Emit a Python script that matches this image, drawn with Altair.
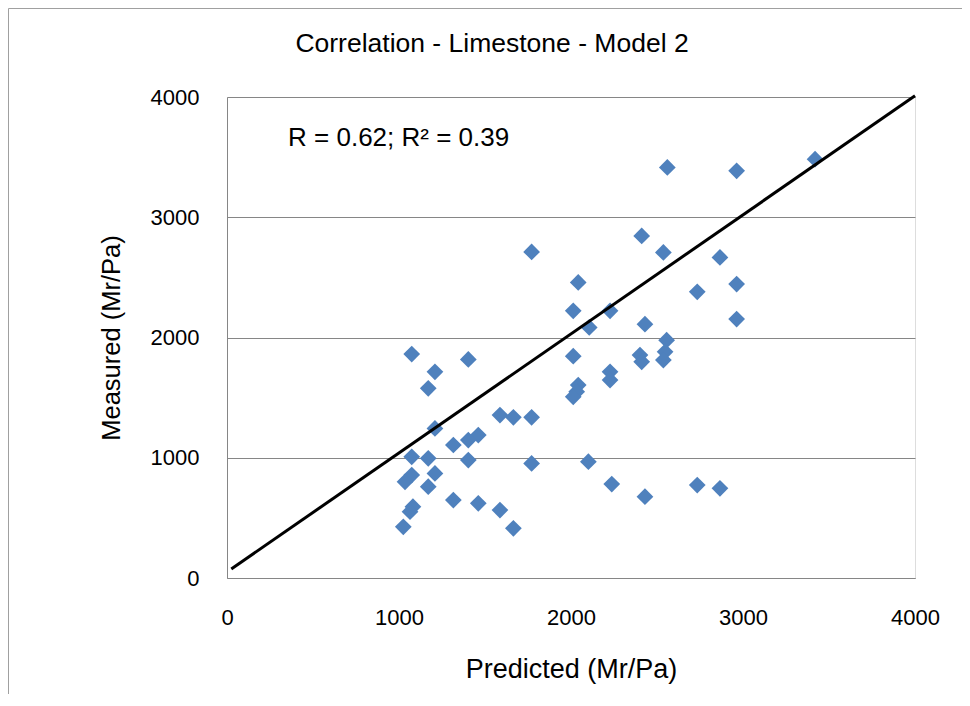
import altair as alt
import pandas as pd

# Scatter points (Predicted, Measured), Mr/Pa
predicted = [2560, 2963, 3419, 1771, 2411, 2537, 2866, 2042, 2734, 2963,
             2013, 2227, 2106, 2430, 2963, 1074, 1403, 2013, 2556, 2547,
             2537, 2401, 2411, 1209, 1170, 2227, 2227, 2042, 2033, 2013,
             1587, 1665, 1771, 1209, 1461, 1403, 1316, 1403, 1074, 1170,
             1209, 1074, 1035, 1771, 2101, 2237, 2430, 2734, 2866, 1170,
             1316, 1461, 1587, 1081, 1064, 1025, 1665]
measured = [3414, 3386, 3483, 2712, 2845, 2707, 2666, 2458, 2380, 2444,
            2222, 2222, 2084, 2111, 2153, 1862, 1818, 1845, 1978, 1881,
            1812, 1854, 1798, 1715, 1577, 1715, 1646, 1604, 1549, 1507,
            1355, 1336, 1336, 1244, 1189, 1147, 1106, 981, 1008, 995,
            870, 856, 800, 953, 967, 781, 676, 773, 746, 759,
            648, 621, 565, 593, 551, 426, 413]

# Fitted line endpoints
line_x = [25, 4000]
line_y = [75, 4010]

axis_ticks = [0, 1000, 2000, 3000, 4000]
title_text = ["Correlation - Limestone - Model 2"]
annotation = "R = 0.62; R\u00b2 = 0.39"
ann_x = [355]
ann_y = [3660]

FONT = "Liberation Sans"
GRID = "#868686"

pts = pd.DataFrame({"Predicted": predicted, "Measured": measured})
ln = pd.DataFrame({"Predicted": line_x, "Measured": line_y})
ann = pd.DataFrame({"Predicted": ann_x, "Measured": ann_y, "t": [annotation]})
ttl = pd.DataFrame({"t": title_text})

xs = alt.Scale(domain=[0, 4000], nice=False)
ys = alt.Scale(domain=[0, 4000], nice=False)

x_axis = alt.Axis(values=axis_ticks, format="d", grid=False, ticks=False, tickSize=0,
                  labelPadding=29, titlePadding=28, labelFontSize=22,
                  titleFontSize=27, titleFontWeight="normal",
                  labelFont=FONT, titleFont=FONT, labelColor="#000000",
                  titleColor="#000000", domainColor=GRID, labelFlush=False,
                  title="Predicted (Mr/Pa)")
y_axis = alt.Axis(values=axis_ticks, format="d", grid=True, gridColor=GRID, gridWidth=1,
                  ticks=False, tickSize=0, labelPadding=28, titlePadding=26,
                  labelFontSize=22, titleFontSize=25.5, titleFontWeight="normal",
                  labelFont=FONT, titleFont=FONT, labelColor="#000000",
                  titleColor="#000000", domainColor=GRID, labelFlush=False,
                  title="Measured  (Mr/Pa)")

points = alt.Chart(pts).mark_point(
    shape="diamond", filled=True, size=280, color="#4F81BD", opacity=1
).encode(
    x=alt.X("Predicted:Q", scale=xs, axis=x_axis),
    y=alt.Y("Measured:Q", scale=ys, axis=y_axis),
)

fit = alt.Chart(ln).mark_line(color="#000000", strokeWidth=3).encode(
    x=alt.X("Predicted:Q", scale=xs),
    y=alt.Y("Measured:Q", scale=ys),
)

text = alt.Chart(ann).mark_text(
    align="left", baseline="middle", font=FONT, fontSize=26, color="#000000"
).encode(
    x=alt.X("Predicted:Q", scale=xs),
    y=alt.Y("Measured:Q", scale=ys),
    text="t:N",
)

title = alt.Chart(ttl).mark_text(
    align="center", baseline="middle", font=FONT, fontSize=26.5, color="#000000"
).encode(x=alt.value(265), y=alt.value(-53), text="t:N")

frame = alt.Chart(pd.DataFrame({"a": [0]})).mark_rule(
    color="#a0a0a0", strokeWidth=1
).encode(x=alt.value(-218.5), y=alt.value(-88.5), y2=alt.value(700))
frame_top = alt.Chart(pd.DataFrame({"a": [0]})).mark_rule(
    color="#a0a0a0", strokeWidth=1
).encode(x=alt.value(-218.5), x2=alt.value(800), y=alt.value(-88.5))

chart = alt.layer(points, fit, text, title, frame, frame_top).properties(
    width=688,
    height=481,
    padding={"left": 219, "top": 89, "right": 47, "bottom": 116},
    autosize=alt.AutoSizeParams(type="none"),
).configure_view(
    stroke="#7EA6DC", strokeWidth=1.5
).configure(background="#ffffff")

chart.save("out.html", embed_options={"renderer": "svg", "actions": False})
